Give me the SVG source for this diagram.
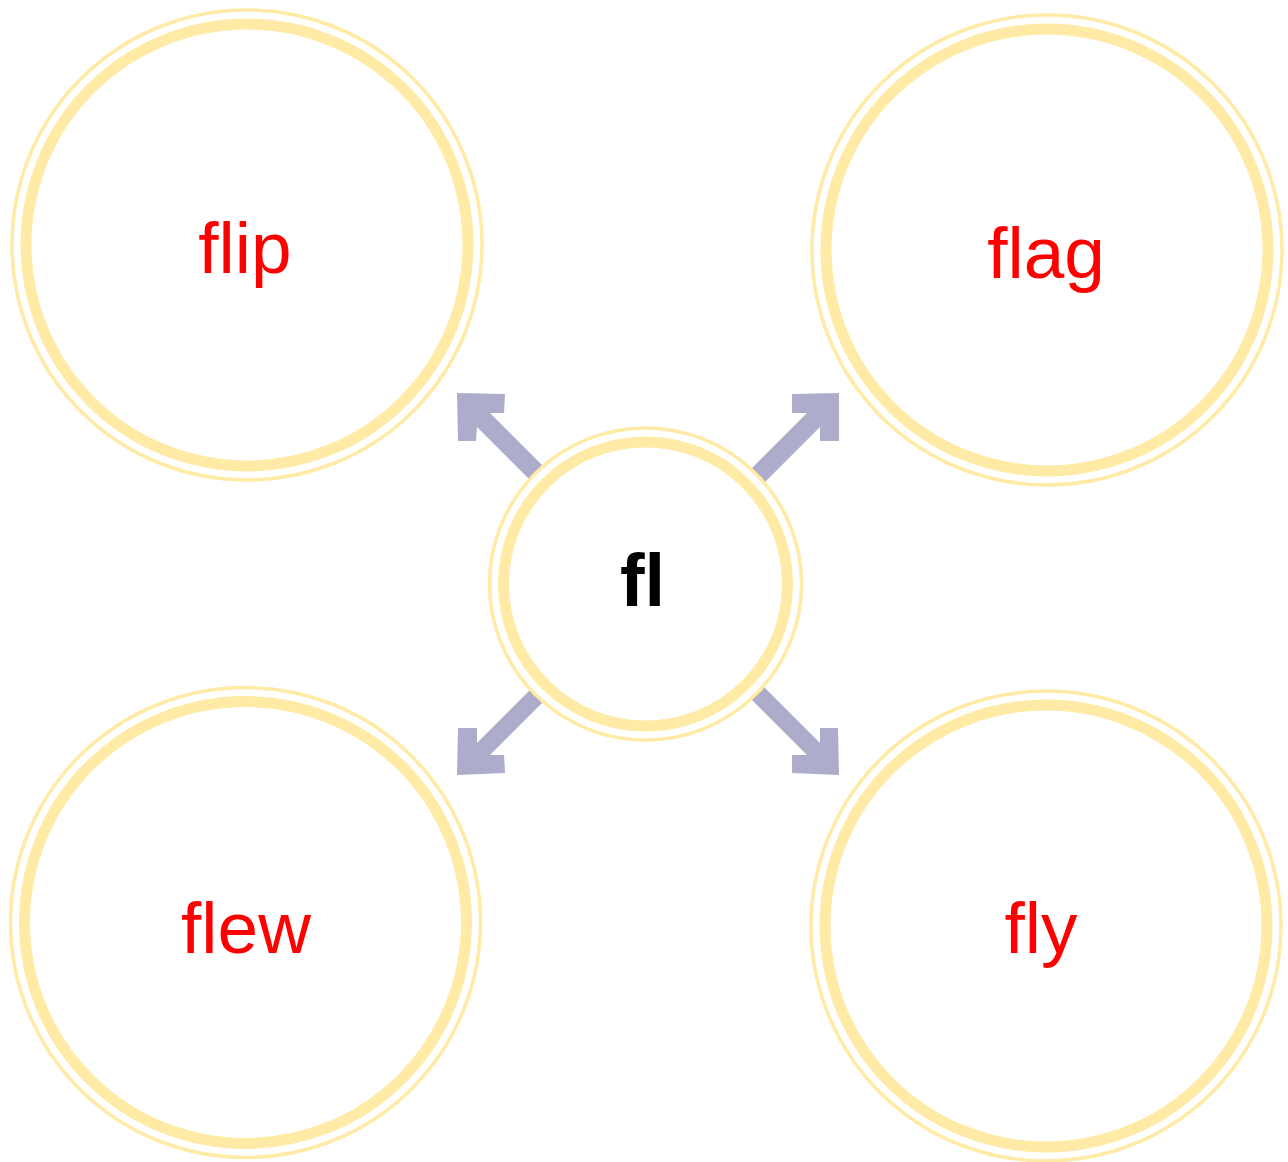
<svg xmlns="http://www.w3.org/2000/svg" width="1288" height="1162" viewBox="0 0 1288 1162">
<style>
.thin{fill:#fff;stroke:#FFEAA6;stroke-width:3.5}
.thick{fill:none;stroke:#FFEAA6;stroke-width:11}
.arrow{fill:#ADACCB}
.lbl{font-family:"Liberation Sans",Arial,sans-serif;font-size:73px;fill:#FF0000;text-anchor:middle}
.ctr{font-family:"Liberation Sans",Arial,sans-serif;font-size:74px;font-weight:bold;fill:#000;text-anchor:middle}
</style>
<rect width="1288" height="1162" fill="#fff"/>
<g id="connectors">
<polygon class="arrow" points="457,393 505,394 504,413 490,413 610,533 597,547 477,427 476,441 458,441"/>
<polygon class="arrow" points="792,394 839,393 839,441 820,441 820,427 700,547 687,533 807,413 792,413"/>
<polygon class="arrow" points="458,728 477,728 477,743 597,623 610,635 490,755 504,755 505,773 457,775"/>
<polygon class="arrow" points="838,728 820,728 820,743 700,623 687,635 807,755 792,755 792,773 839,775"/>
</g>
<g id="node-center">
<circle class="thin" cx="645.5" cy="584" r="156"/>
<circle class="thick" cx="645.5" cy="584" r="142" stroke-width="10"/>
<text class="ctr" x="642.5" y="606">fl</text>
</g>
<g id="node-flip">
<circle class="thin" cx="247" cy="245" r="235"/>
<circle class="thick" cx="247" cy="245" r="221"/>
<text class="lbl" x="245" y="273">flip</text>
</g>
<g id="node-flag">
<circle class="thin" cx="1047" cy="250" r="235"/>
<circle class="thick" cx="1047" cy="250" r="221"/>
<text class="lbl" x="1046" y="278">flag</text>
</g>
<g id="node-flew">
<circle class="thin" cx="245.5" cy="922.5" r="235"/>
<circle class="thick" cx="245.5" cy="922.5" r="221"/>
<text class="lbl" x="246" y="953">flew</text>
</g>
<g id="node-fly">
<circle class="thin" cx="1046" cy="926" r="235"/>
<circle class="thick" cx="1046" cy="926" r="221"/>
<text class="lbl" x="1041" y="953">fly</text>
</g>
</svg>
